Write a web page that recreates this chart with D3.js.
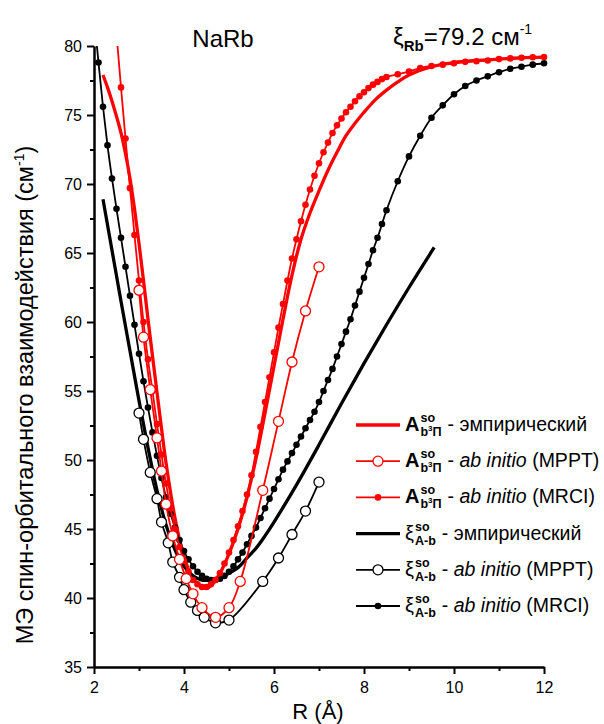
<!DOCTYPE html>
<html>
<head>
<meta charset="utf-8">
<script src="https://cdn.jsdelivr.net/npm/d3@7"></script>
<style>
  body { margin: 0; background: #fff; }
  text { font-family: "Liberation Sans", Arial, sans-serif; }
</style>
</head>
<body>
<svg id="chart" width="604" height="724"></svg>
<script>
'use strict';

// --- data (R in angstrom, values in cm-1) ---
const xTicks = [2, 4, 6, 8, 10, 12];
const xMinor = [3, 5, 7, 9, 11];
const yTicks = [35, 40, 45, 50, 55, 60, 65, 70, 75, 80];
const yMinor = [37.5, 42.5, 47.5, 52.5, 57.5, 62.5, 67.5, 72.5, 77.5];

const redEmpR = [2.2, 2.3, 2.4, 2.5, 2.6, 2.7, 2.8, 2.9, 3.0, 3.1, 3.2, 3.4, 3.5, 3.6, 3.8, 4.0, 4.2, 4.4, 4.5, 4.6, 4.8, 5.0, 5.2, 5.4, 5.6, 5.8, 6.0, 6.2, 6.4, 6.6, 6.8, 7.0, 7.2, 7.4, 7.6, 7.8, 8.0, 8.25, 8.5, 8.75, 9.0, 9.5, 10.0, 10.5, 11.0, 11.5, 12.0];
const redEmpV = [77.9, 77.0, 76.0, 74.9, 73.7, 72.2, 70.4, 68.2, 65.7, 63.0, 60.2, 54.9, 52.3, 49.8, 45.8, 43.0, 41.4, 40.8, 40.7, 40.9, 41.8, 43.2, 45.0, 47.3, 50.1, 53.4, 56.8, 60.2, 63.4, 66.0, 67.9, 69.5, 71.0, 72.3, 73.5, 74.4, 75.2, 76.1, 76.8, 77.4, 77.9, 78.5, 78.8, 78.95, 79.05, 79.15, 79.2];

const redMpptR = [3.0, 3.1, 3.25, 3.4, 3.5, 3.6, 3.75, 3.9, 4.05, 4.2, 4.4, 4.7, 5.0, 5.25, 5.75, 6.1, 6.4, 6.7, 7.0];
const redMpptV = [62.3, 58.9, 55.1, 51.6, 49.2, 46.8, 44.5, 42.8, 41.4, 40.3, 39.3, 38.6, 39.3, 41.2, 47.8, 52.8, 57.1, 60.8, 64.0];

const redMrciR = [2.5, 2.6, 2.7, 2.8, 2.9, 3.0, 3.1, 3.2, 3.3, 3.4, 3.5, 3.6, 3.7, 3.8, 3.9, 4.0, 4.1, 4.2, 4.3, 4.4, 4.5, 4.6, 4.7, 4.8, 4.9, 5.0, 5.1, 5.2, 5.3, 5.4, 5.5, 5.6, 5.7, 5.8, 5.9, 6.0, 6.1, 6.2, 6.3, 6.4, 6.5, 6.6, 6.7, 6.8, 6.9, 7.0, 7.1, 7.2, 7.3, 7.4, 7.5, 7.6, 7.7, 7.8, 7.9, 8.0, 8.1, 8.2, 8.3, 8.4, 8.5, 8.75, 9.0, 9.25, 9.5, 9.75, 10.0, 10.25, 10.5, 10.75, 11.0, 11.25, 11.5, 11.75, 12.0];
const redMrciV = [80.9, 77.0, 73.3, 69.7, 66.3, 63.0, 60.0, 57.3, 55.0, 52.6, 50.4, 48.3, 46.5, 45.0, 43.7, 42.7, 41.9, 41.3, 41.0, 40.8, 40.8, 41.0, 41.3, 41.8, 42.5, 43.3, 44.2, 45.2, 46.3, 47.5, 48.9, 50.6, 52.4, 54.2, 56.0, 57.8, 59.6, 61.3, 63.0, 64.6, 66.0, 67.3, 68.5, 69.6, 70.6, 71.5, 72.3, 73.0, 73.7, 74.25, 74.75, 75.2, 75.6, 76.0, 76.35, 76.65, 76.95, 77.2, 77.4, 77.6, 77.75, 77.95, 78.15, 78.4, 78.55, 78.65, 78.75, 78.85, 78.9, 78.95, 79.05, 79.1, 79.15, 79.18, 79.2];

const blackEmpR = [2.2, 2.4, 2.6, 2.8, 3.0, 3.2, 3.4, 3.6, 3.8, 4.0, 4.2, 4.4, 4.6, 4.8, 5.0, 5.2, 5.4, 5.6, 5.8, 6.0, 6.5, 7.0, 7.5, 8.0, 8.5, 9.0, 9.56];
const blackEmpV = [68.9, 65.2, 61.5, 57.9, 54.3, 50.9, 47.8, 45.3, 43.5, 42.3, 41.6, 41.3, 41.3, 41.4, 41.8, 42.2, 42.9, 43.6, 44.5, 45.5, 48.2, 51.1, 54.1, 57.0, 59.8, 62.5, 65.4];

const blackMpptR = [3.0, 3.1, 3.25, 3.4, 3.5, 3.65, 3.75, 3.9, 4.0, 4.15, 4.3, 4.45, 4.7, 5.0, 5.75, 6.1, 6.4, 6.7, 7.0];
const blackMpptV = [53.4, 51.5, 49.1, 47.2, 45.5, 44.0, 42.6, 41.5, 40.6, 39.7, 39.1, 38.6, 38.2, 38.4, 41.2, 42.9, 44.6, 46.3, 48.4];

const blackMrciR = [2.0, 2.1, 2.2, 2.3, 2.4, 2.5, 2.6, 2.7, 2.8, 2.9, 3.0, 3.1, 3.2, 3.3, 3.4, 3.5, 3.6, 3.7, 3.8, 3.9, 4.0, 4.1, 4.2, 4.3, 4.4, 4.5, 4.6, 4.7, 4.8, 4.9, 5.0, 5.1, 5.2, 5.3, 5.4, 5.5, 5.6, 5.7, 5.8, 5.9, 6.0, 6.1, 6.2, 6.3, 6.4, 6.5, 6.6, 6.7, 6.8, 6.9, 7.0, 7.1, 7.2, 7.3, 7.4, 7.5, 7.6, 7.7, 7.8, 7.9, 8.0, 8.1, 8.2, 8.3, 8.4, 8.5, 8.75, 9.0, 9.25, 9.5, 9.75, 10.0, 10.25, 10.5, 10.75, 11.0, 11.25, 11.5, 11.75, 12.0];
const blackMrciV = [82.2, 78.8, 75.6, 72.8, 70.4, 68.2, 66.1, 64.0, 61.9, 59.8, 57.7, 55.7, 53.8, 52.0, 50.3, 48.7, 47.3, 46.1, 45.1, 44.2, 43.4, 42.8, 42.3, 41.9, 41.6, 41.4, 41.3, 41.3, 41.4, 41.6, 41.9, 42.3, 42.8, 43.3, 43.9, 44.5, 45.1, 45.8, 46.5, 47.2, 47.9, 48.6, 49.3, 49.9, 50.5, 51.1, 51.7, 52.3, 52.9, 53.5, 54.2, 55.0, 55.8, 56.6, 57.5, 58.4, 59.3, 60.2, 61.2, 62.2, 63.2, 64.2, 65.2, 66.1, 67.1, 68.1, 70.2, 72.0, 73.5, 74.8, 75.7, 76.5, 77.1, 77.5, 77.8, 78.1, 78.35, 78.5, 78.65, 78.75];

const series = [
    { R: redEmpR, V: redEmpV, color: "#ff0000", width: 3.3, marker: null },
    { R: blackEmpR, V: blackEmpV, color: "#000000", width: 3.3, marker: null },
    { R: blackMrciR, V: blackMrciV, color: "#000000", width: 1.8, marker: "dot" },
    { R: redMrciR, V: redMrciV, color: "#ff0000", width: 1.8, marker: "dot" },
    { R: blackMpptR, V: blackMpptV, color: "#000000", width: 1.8, marker: "open" },
    { R: redMpptR, V: redMpptV, color: "#ff0000", width: 1.8, marker: "open" }
];

const svg = d3.select("#chart");

const x = d3.scaleLinear().domain([2, 12]).range([94, 544]);
const y = d3.scaleLinear().domain([35, 80]).range([667, 46]);

svg.append("defs").append("clipPath").attr("id", "plotclip")
    .append("rect")
    .attr("x", x(2)).attr("y", y(80))
    .attr("width", x(12) - x(2) + 10).attr("height", y(35) - y(80));

// lines
let plot = svg.append("g").attr("clip-path", "url(#plotclip)");

let line = d3.line()
    .x(function(d) { return x(d[0]); })
    .y(function(d) { return y(d[1]); })
    .curve(d3.curveCatmullRom);

series.forEach(function(s) {
    let pts = s.R.map(function(r, i) { return [r, s.V[i]]; });
    plot.append("path")
        .datum(pts)
        .attr("fill", "none")
        .attr("stroke", s.color)
        .attr("stroke-width", s.width)
        .attr("d", line);
    if (s.marker === "dot") {
        plot.append("g").selectAll("circle")
            .data(pts)
            .enter().append("circle")
            .attr("cx", function(d) { return x(d[0]); })
            .attr("cy", function(d) { return y(d[1]); })
            .attr("r", 3.3)
            .attr("fill", s.color);
    } else if (s.marker === "open") {
        plot.append("g").selectAll("circle")
            .data(pts)
            .enter().append("circle")
            .attr("cx", function(d) { return x(d[0]); })
            .attr("cy", function(d) { return y(d[1]); })
            .attr("r", 5)
            .attr("fill", "#fff")
            .attr("stroke", s.color)
            .attr("stroke-width", 1.3);
    }
});

// axes
function styleAxis(g) {
    g.select(".domain").attr("stroke-width", 2);
    g.selectAll(".tick line").attr("stroke-width", 2);
    g.selectAll(".tick text")
        .style("font-family", "Liberation Sans, Arial, sans-serif")
        .style("font-size", "16px")
        .attr("fill", "#000");
}

svg.append("g")
    .attr("transform", "translate(0," + y(35) + ")")
    .call(d3.axisBottom(x).tickValues(xMinor).tickSize(4).tickSizeOuter(0).tickFormat(""))
    .call(styleAxis);
svg.append("g")
    .attr("transform", "translate(0," + y(35) + ")")
    .call(d3.axisBottom(x).tickValues(xTicks).tickSize(7).tickSizeOuter(0).tickPadding(8).tickFormat(d3.format("d")))
    .call(styleAxis);

svg.append("g")
    .attr("transform", "translate(" + x(2) + ",0)")
    .call(d3.axisLeft(y).tickValues(yMinor).tickSize(4).tickSizeOuter(0).tickFormat(""))
    .call(styleAxis);
svg.append("g")
    .attr("transform", "translate(" + x(2) + ",0)")
    .call(d3.axisLeft(y).tickValues(yTicks).tickSize(7).tickSizeOuter(0).tickPadding(5).tickFormat(d3.format("d")))
    .call(styleAxis);

// axis titles
svg.append("text")
    .attr("x", 318).attr("y", 719)
    .attr("text-anchor", "middle")
    .style("font-size", "22px")
    .text("R (Å)");

let yt = svg.append("text")
    .attr("transform", "translate(33,395) rotate(-90)")
    .attr("text-anchor", "middle")
    .style("font-size", "23.5px");
yt.append("tspan").text("МЭ спин-орбитального взаимодействия (см");
yt.append("tspan").attr("dy", -9).style("font-size", "14px").text("-1");
yt.append("tspan").attr("dy", 9).text(")");

// titles
svg.append("text")
    .attr("x", 223).attr("y", 47)
    .attr("text-anchor", "middle")
    .style("font-size", "24px")
    .text("NaRb");

let xi = svg.append("text").attr("x", 393).attr("y", 45).style("font-size", "24px");
xi.append("tspan").text("ξ");
xi.append("tspan").attr("dy", 6).style("font-size", "15px").style("font-weight", "bold").text("Rb");
xi.append("tspan").attr("dy", -6).text("=79.2 см");
xi.append("tspan").attr("dy", -11).style("font-size", "14px").text("-1");

// legend
const legendRows = [
    { color: "#ff0000", width: 3.3, marker: null, main: "A", bold: true, sub: "b3Π", rest: [["- эмпирический", false]] },
    { color: "#ff0000", width: 1.8, marker: "open", main: "A", bold: true, sub: "b3Π", rest: [["- ", false], ["ab initio", true], [" (MPPT)", false]] },
    { color: "#ff0000", width: 1.8, marker: "dot", main: "A", bold: true, sub: "b3Π", rest: [["- ", false], ["ab initio", true], [" (MRCI)", false]] },
    { color: "#000000", width: 3.3, marker: null, main: "ξ", bold: false, sub: "A-b", rest: [["- эмпирический", false]] },
    { color: "#000000", width: 1.8, marker: "open", main: "ξ", bold: false, sub: "A-b", rest: [["- ", false], ["ab initio", true], [" (MPPT)", false]] },
    { color: "#000000", width: 1.8, marker: "dot", main: "ξ", bold: false, sub: "A-b", rest: [["- ", false], ["ab initio", true], [" (MRCI)", false]] }
];

let legend = svg.append("g");
legendRows.forEach(function(row, i) {
    let cy = 425 + i * 36.2;
    legend.append("line")
        .attr("x1", 356).attr("x2", 400)
        .attr("y1", cy).attr("y2", cy)
        .attr("stroke", row.color)
        .attr("stroke-width", row.width);
    if (row.marker === "open") {
        legend.append("circle").attr("cx", 378).attr("cy", cy).attr("r", 5)
            .attr("fill", "#fff").attr("stroke", row.color).attr("stroke-width", 1.3);
    } else if (row.marker === "dot") {
        legend.append("circle").attr("cx", 378).attr("cy", cy).attr("r", 3.3)
            .attr("fill", row.color);
    }
    let by = cy + 6;
    let m = legend.append("text")
        .attr("x", 405).attr("y", by)
        .style("font-size", "20px")
        .style("font-weight", row.bold ? "bold" : "normal")
        .text(row.main);
    let mw = m.node().getComputedTextLength();
    let sx = 405 + mw + 1;
    let sup = legend.append("text")
        .attr("x", sx).attr("y", by - 9)
        .style("font-size", "12.5px").style("font-weight", "bold")
        .text("so");
    let sub = legend.append("text")
        .attr("x", sx).attr("y", by + 5)
        .style("font-size", "12.5px").style("font-weight", "bold");
    if (row.sub === "b3Π") {
        sub.append("tspan").text("b");
        sub.append("tspan").attr("dy", -5).style("font-size", "8px").text("3");
        sub.append("tspan").attr("dy", 5).text("Π");
    } else {
        sub.text(row.sub);
    }
    let ew = Math.max(sup.node().getComputedTextLength(), sub.node().getComputedTextLength());
    let r = legend.append("text")
        .attr("x", sx + ew + 6).attr("y", by)
        .style("font-size", "19.5px");
    row.rest.forEach(function(p) {
        r.append("tspan")
            .style("font-style", p[1] ? "italic" : "normal")
            .text(p[0]);
    });
});
</script>
</body>
</html>
